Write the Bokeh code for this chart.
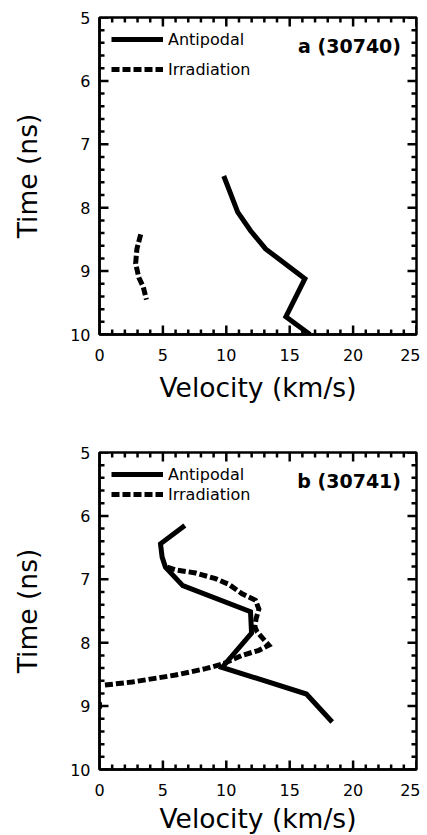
from bokeh.plotting import figure
from bokeh.models import Range1d, FixedTicker, Legend, LegendItem, Label, ColumnDataSource
from bokeh.layouts import column
from bokeh.embed import file_html
from bokeh.resources import INLINE

# ---------------- data ----------------
x_ticks = [0, 5, 10, 15, 20, 25]
x_minor = [v for v in range(0, 26) if v % 5 != 0]
y_ticks = [5, 6, 7, 8, 9, 10]
y_minor = [round(5 + 0.2 * i, 1) for i in range(26) if i % 5 != 0]

# panel a (shot 30740)
anti_a_vel = [9.8, 10.9, 11.9, 13.1, 16.2, 14.7, 16.6]
anti_a_time = [7.5, 8.07, 8.36, 8.65, 9.12, 9.72, 10.0]
irr_a_vel = [3.25, 2.95, 2.85, 3.1, 3.45, 3.7]
irr_a_time = [8.42, 8.65, 8.88, 9.1, 9.25, 9.45]

# panel b (shot 30741)
anti_b_vel = [6.73, 4.81, 4.94, 5.2, 6.57, 11.91, 11.99, 9.67, 16.32, 18.35]
anti_b_time = [6.15, 6.44, 6.65, 6.81, 7.1, 7.51, 7.85, 8.39, 8.81, 9.25]
irr_b_vel = [5.34, 5.99, 7.57, 9.15, 10.2, 11.25, 12.3, 12.57, 12.35, 12.25,
             12.43, 13.35, 12.57, 11.25, 9.8, 8.36, 5.99, 2.58, 0.34,
             float("nan"), 0.0, 0.0]
irr_b_time = [6.81, 6.85, 6.9, 6.99, 7.08, 7.23, 7.33, 7.47, 7.62, 7.75,
              7.83, 8.04, 8.12, 8.2, 8.33, 8.41, 8.51, 8.62, 8.67,
              float("nan"), 8.94, 9.04]

series_labels = ["Antipodal", "Irradiation"]
panel_titles = ["a  (30740)", "b  (30741)"]

FONT = "DejaVu Sans"
X0, X1 = 0, 25
Y0, Y1 = 10, 5          # inverted time axis
FRAME = 317              # frame size in px
MAJOR_LEN, MINOR_LEN = 9, 5


def tick_lines():
    """Inward tick marks on all four sides, built from the tick lists."""
    vx = (X1 - X0) / FRAME   # velocity units per px
    ty = (Y0 - Y1) / FRAME   # time units per px
    xs, ys = [], []
    for ticks, ln in ((x_ticks, MAJOR_LEN), (x_minor, MINOR_LEN)):
        d = ln * ty
        for t in ticks:
            xs += [[t, t], [t, t]]
            ys += [[Y0, Y0 - d], [Y1, Y1 + d]]
    for ticks, ln in ((y_ticks, MAJOR_LEN), (y_minor, MINOR_LEN)):
        d = ln * vx
        for t in ticks:
            xs += [[X0, X0 + d], [X1, X1 - d]]
            ys += [[t, t], [t, t]]
    return xs, ys


def style_axis(ax, label, standoff, label_standoff):
    ax.axis_line_color = "black"
    ax.axis_line_width = 2.5
    ax.major_tick_in = 0
    ax.major_tick_out = 0
    ax.minor_tick_in = 0
    ax.minor_tick_out = 0
    ax.major_tick_line_color = None
    ax.minor_tick_line_color = None
    ax.major_label_text_font = FONT
    ax.major_label_text_color = "black"
    ax.major_label_text_font_size = "16px"
    ax.major_label_standoff = standoff
    ax.axis_label = label
    ax.axis_label_text_font = FONT
    ax.axis_label_text_font_size = "26.5px"
    ax.axis_label_text_font_style = "normal"
    ax.axis_label_text_color = "black"
    ax.axis_label_standoff = label_standoff


def make_panel(av, at, iv, it, title, border_top, border_bottom, spacing,
               xlab_standoff):
    p = figure(frame_width=FRAME, frame_height=FRAME,
               x_range=Range1d(X0, X1), y_range=Range1d(Y0, Y1),
               output_backend="svg", toolbar_location=None,
               min_border_left=99, min_border_right=4, min_border_top=border_top,
               min_border_bottom=border_bottom,
               background_fill_color="white", border_fill_color="white",
               outline_line_color="black", outline_line_width=2.5)
    p.grid.visible = False

    p.xaxis.ticker = FixedTicker(ticks=x_ticks)
    p.yaxis.ticker = FixedTicker(ticks=y_ticks)
    for ax in p.xaxis:
        style_axis(ax, "Velocity (km/s)", 14, xlab_standoff)
    for ax in p.yaxis:
        style_axis(ax, "Time (ns)", 9, 24)

    r1 = p.line(av, at, line_color="black", line_width=5, line_join="miter")
    r2 = p.line(iv, it, line_color="black", line_width=5,
                line_dash="8 3", line_join="miter")

    txs, tys = tick_lines()
    p.multi_line(xs=txs, ys=tys, line_color="#000000", line_width=2.5)

    legend = Legend(items=[LegendItem(label=series_labels[0], renderers=[r1]),
                           LegendItem(label=series_labels[1], renderers=[r2])],
                    location="top_left", margin=12, padding=0,
                    glyph_width=52, glyph_height=20, label_height=20,
                    label_standoff=5, spacing=spacing,
                    label_text_font=FONT, label_text_font_size="16px",
                    label_text_color="black",
                    background_fill_alpha=0, border_line_color=None)
    p.add_layout(legend)

    p.add_layout(Label(x=24.3, y=5.45, text=title, text_align="right",
                       text_baseline="middle", text_font=FONT,
                       text_font_style="bold", text_font_size="19px",
                       text_color="black"))
    return p


pa = make_panel(anti_a_vel, anti_a_time, irr_a_vel, irr_a_time,
                panel_titles[0], 17, 109, 10, 8)
pb = make_panel(anti_b_vel, anti_b_time, irr_b_vel, irr_b_time,
                panel_titles[1], 9, 66, 0, 4)

layout = column(pa, pb, spacing=0)
open("out.html", "w").write(file_html(layout, INLINE))
